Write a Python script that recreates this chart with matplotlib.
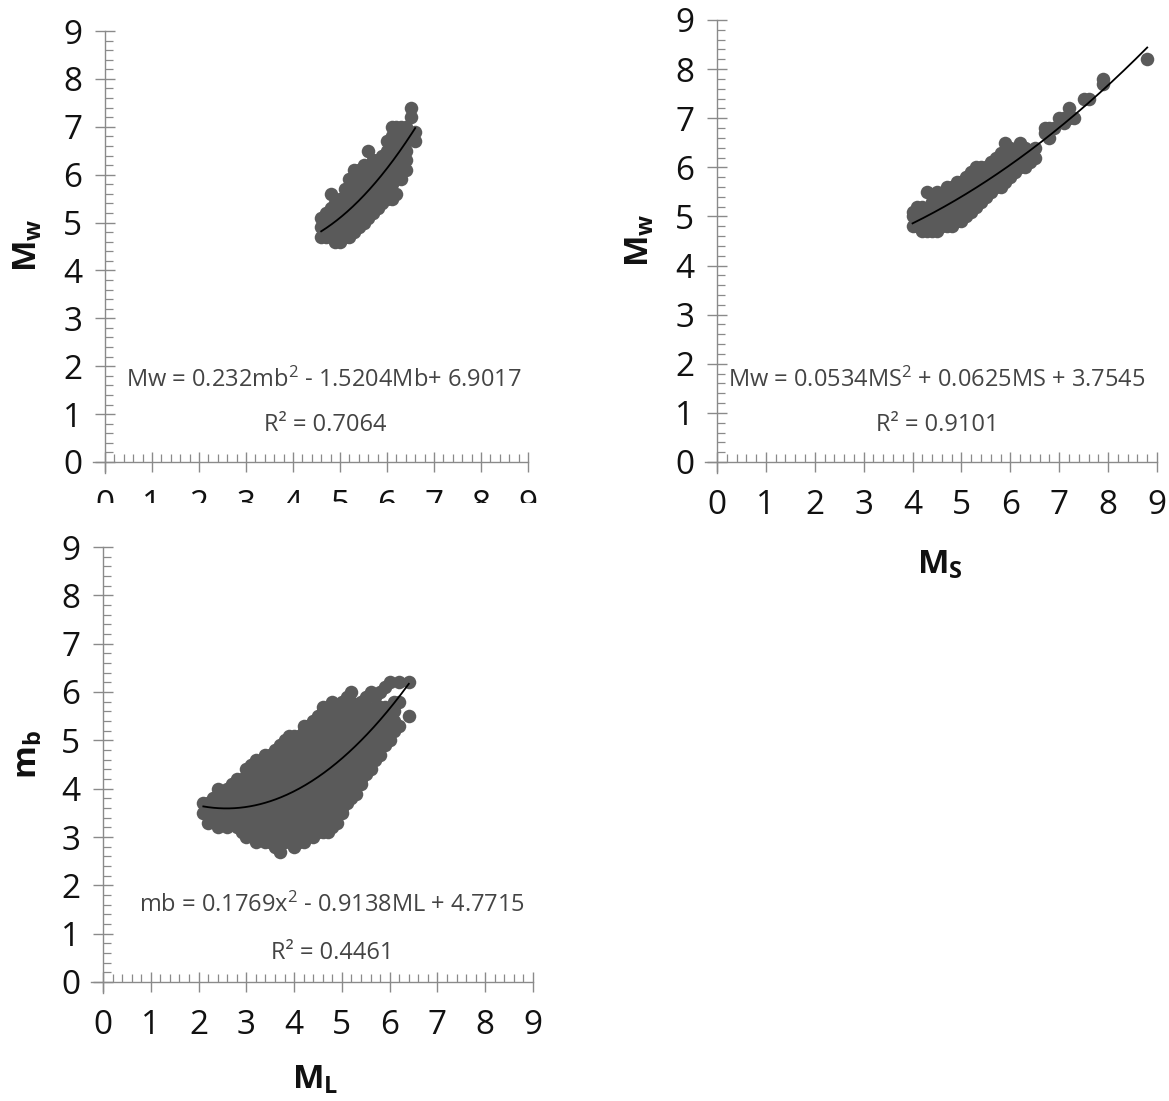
import matplotlib
matplotlib.use("Agg")
import matplotlib.pyplot as plt
import numpy as np
from matplotlib.patches import Rectangle

plt.rcParams['font.family'] = ['Open Sans', 'DejaVu Sans']
plt.rcParams['mathtext.fontset'] = 'custom'
plt.rcParams['mathtext.rm'] = 'Open Sans'
plt.rcParams['mathtext.it'] = 'Open Sans:italic'
plt.rcParams['mathtext.bf'] = 'Open Sans:bold'

# mb -> Mw (column of mb value : Mw values)
mb_mw = {
    4.6: [4.7, 4.9, 5.1],
    4.7: [4.7, 4.9, 5.0, 5.2],
    4.8: [4.7, 4.9, 5.1, 5.3, 5.6],
    4.9: [4.6, 4.8, 5.0, 5.2, 5.4],
    5.0: [4.6, 4.8, 5.0, 5.2, 5.5],
    5.1: [4.7, 4.9, 5.1, 5.3, 5.5, 5.7],
    5.2: [4.7, 4.9, 5.1, 5.3, 5.5, 5.7, 5.9],
    5.3: [4.8, 5.0, 5.2, 5.4, 5.6, 5.8, 6.1],
    5.4: [4.9, 5.1, 5.3, 5.5, 5.7, 5.9, 6.1],
    5.5: [5.0, 5.2, 5.4, 5.6, 5.8, 6.0, 6.2],
    5.6: [5.1, 5.3, 5.5, 5.7, 5.9, 6.1, 6.5],
    5.7: [5.2, 5.4, 5.6, 5.8, 6.0, 6.3],
    5.8: [5.3, 5.5, 5.7, 5.9, 6.1, 6.3],
    5.9: [5.4, 5.6, 5.8, 6.0, 6.2, 6.4],
    6.0: [5.5, 5.7, 5.9, 6.1, 6.3, 6.5, 6.7],
    6.1: [5.5, 5.8, 6.0, 6.2, 6.4, 6.6, 6.8, 7.0],
    6.2: [5.6, 5.9, 6.1, 6.3, 6.5, 6.7, 7.0],
    6.3: [5.9, 6.1, 6.3, 6.5, 6.8, 7.0],
    6.4: [6.1, 6.3, 6.5, 6.7, 7.0],
    6.5: [6.8, 7.2, 7.4],
    6.6: [6.7, 6.9],
}

# MS -> Mw
ms_mw = {
    4.0: [4.8, 5.0, 5.1],
    4.1: [4.8, 4.9, 5.2],
    4.2: [4.7, 4.9, 5.1, 5.2],
    4.3: [4.7, 4.9, 5.1, 5.5],
    4.4: [4.7, 4.9, 5.1, 5.3],
    4.5: [4.7, 4.9, 5.1, 5.3, 5.5],
    4.6: [4.8, 5.0, 5.2, 5.4],
    4.7: [4.8, 5.0, 5.2, 5.4, 5.6],
    4.8: [4.8, 5.0, 5.2, 5.4, 5.6],
    4.9: [4.9, 5.1, 5.3, 5.5, 5.7],
    5.0: [4.9, 5.1, 5.3, 5.5, 5.7],
    5.1: [5.0, 5.2, 5.4, 5.6, 5.8],
    5.2: [5.1, 5.3, 5.5, 5.7, 5.9],
    5.3: [5.2, 5.4, 5.6, 5.8, 6.0],
    5.4: [5.3, 5.5, 5.7, 5.9, 6.0],
    5.5: [5.4, 5.6, 5.8, 6.0],
    5.6: [5.5, 5.7, 5.9, 6.1],
    5.7: [5.6, 5.8, 6.0, 6.2],
    5.8: [5.6, 5.8, 6.0, 6.3],
    5.9: [5.7, 5.9, 6.1, 6.3, 6.5],
    6.0: [5.8, 6.0, 6.2, 6.4],
    6.1: [5.9, 6.1, 6.3],
    6.2: [6.0, 6.2, 6.5],
    6.3: [6.0, 6.2, 6.4],
    6.4: [6.1, 6.3],
    6.5: [6.2, 6.4],
    6.7: [6.7, 6.8],
    6.8: [6.6, 6.8],
    6.9: [6.8],
    7.0: [7.0],
    7.1: [6.9, 7.0],
    7.2: [7.0, 7.2],
    7.3: [7.0],
    7.5: [7.4],
    7.6: [7.4],
    7.9: [7.7, 7.8],
    8.8: [8.2],
}

# ML -> mb
ml_mb = {
    2.1: [3.5, 3.7],
    2.2: [3.3, 3.5, 3.7],
    2.3: [3.4, 3.6, 3.8],
    2.4: [3.2, 3.4, 3.6, 3.8, 4.0],
    2.6: [3.2, 3.4, 3.6, 3.8, 4.0],
    2.7: [3.3, 3.5, 3.7, 3.9, 4.1],
    2.8: [3.2, 3.4, 3.6, 3.8, 4.0, 4.2],
    2.9: [3.1, 3.3, 3.5, 3.7, 3.9, 4.1, 4.2],
    3.0: [3.0, 3.2, 3.4, 3.6, 3.8, 4.0, 4.2, 4.4],
    3.1: [3.1, 3.3, 3.5, 3.7, 3.9, 4.1, 4.3, 4.5],
    3.2: [2.9, 3.0, 3.2, 3.4, 3.6, 3.8, 4.0, 4.2, 4.4, 4.6],
    3.3: [3.1, 3.3, 3.5, 3.7, 3.9, 4.1, 4.3, 4.5],
    3.4: [2.9, 3.0, 3.2, 3.4, 3.6, 3.8, 4.0, 4.2, 4.4, 4.6, 4.7],
    3.5: [2.9, 3.1, 3.3, 3.5, 3.7, 3.9, 4.1, 4.3, 4.5, 4.7],
    3.6: [2.8, 3.0, 3.2, 3.4, 3.6, 3.8, 4.0, 4.2, 4.4, 4.6, 4.8],
    3.7: [2.7, 2.9, 3.1, 3.3, 3.5, 3.7, 3.9, 4.1, 4.3, 4.5, 4.7, 4.9],
    3.8: [2.9, 3.0, 3.2, 3.4, 3.6, 3.8, 4.0, 4.2, 4.4, 4.6, 4.8, 5.0],
    3.9: [3.1, 3.3, 3.5, 3.7, 3.9, 4.1, 4.3, 4.5, 4.7, 4.9, 5.1],
    4.0: [2.8, 3.0, 3.2, 3.4, 3.6, 3.8, 4.0, 4.2, 4.4, 4.6, 4.8, 5.0, 5.1],
    4.1: [2.9, 3.1, 3.3, 3.5, 3.7, 3.9, 4.1, 4.3, 4.5, 4.7, 4.9, 5.1],
    4.2: [2.9, 3.0, 3.2, 3.4, 3.6, 3.8, 4.0, 4.2, 4.4, 4.6, 4.8, 5.0, 5.2, 5.3],
    4.3: [3.1, 3.3, 3.5, 3.7, 3.9, 4.1, 4.3, 4.5, 4.7, 4.9, 5.1, 5.3],
    4.4: [3.0, 3.2, 3.4, 3.6, 3.8, 4.0, 4.2, 4.4, 4.6, 4.8, 5.0, 5.2, 5.4],
    4.5: [3.1, 3.3, 3.5, 3.7, 3.9, 4.1, 4.3, 4.5, 4.7, 4.9, 5.1, 5.3, 5.5],
    4.6: [3.1, 3.2, 3.4, 3.6, 3.8, 4.0, 4.2, 4.4, 4.6, 4.8, 5.0, 5.2, 5.4, 5.6, 5.7],
    4.7: [3.1, 3.3, 3.5, 3.7, 3.9, 4.1, 4.3, 4.5, 4.7, 4.9, 5.1, 5.3, 5.5, 5.7],
    4.8: [3.2, 3.4, 3.6, 3.8, 4.0, 4.2, 4.4, 4.6, 4.8, 5.0, 5.2, 5.4, 5.6, 5.8],
    4.9: [3.3, 3.5, 3.7, 3.9, 4.1, 4.3, 4.5, 4.7, 4.9, 5.1, 5.3, 5.5, 5.7],
    5.0: [3.5, 3.6, 3.8, 4.0, 4.2, 4.4, 4.6, 4.8, 5.0, 5.2, 5.4, 5.6, 5.8],
    5.1: [3.7, 3.9, 4.1, 4.3, 4.5, 4.7, 4.9, 5.1, 5.3, 5.5, 5.7, 5.9],
    5.2: [3.8, 4.0, 4.2, 4.4, 4.6, 4.8, 5.0, 5.2, 5.4, 5.6, 5.8, 6.0],
    5.3: [3.9, 4.1, 4.3, 4.5, 4.7, 4.9, 5.1, 5.3, 5.5, 5.7],
    5.4: [4.1, 4.2, 4.4, 4.6, 4.8, 5.0, 5.2, 5.4, 5.6, 5.8],
    5.5: [4.3, 4.5, 4.7, 4.9, 5.1, 5.3, 5.5, 5.7, 5.9],
    5.6: [4.4, 4.6, 4.8, 5.0, 5.2, 5.4, 5.6, 6.0],
    5.7: [4.6, 4.7, 4.9, 5.1, 5.3, 5.5, 5.7, 5.9],
    5.8: [4.7, 4.9, 5.1, 5.3, 5.5, 5.7, 6.0],
    5.9: [4.9, 5.1, 5.3, 5.5, 5.7, 6.1],
    6.0: [5.0, 5.2, 5.4, 5.6, 6.2],
    6.1: [5.2, 5.4, 5.6, 5.8],
    6.2: [5.3, 5.8, 6.2],
    6.4: [5.5, 6.2],
}

# quadratic trendlines (a, b, c) and labels
fit_tl = (0.232, -1.5204, 6.9017)
fit_tr = (0.0534, 0.0625, 3.7545)
fit_bl = (0.1769, -0.9138, 4.7715)
eq_tl = "Mw = 0.232mb$^2$ - 1.5204Mb+ 6.9017"
eq_tr = "Mw = 0.0534MS$^2$ + 0.0625MS + 3.7545"
eq_bl = "mb = 0.1769x$^2$ - 0.9138ML + 4.7715"
r2_tl = "R² = 0.7064"
r2_tr = "R² = 0.9101"
r2_bl = "R² = 0.4461"

W, H = 1169, 1101
fig = plt.figure(figsize=(W / 100, H / 100), dpi=100)

AX_GRAY = '#8a8a8a'
DOT = '#5a5a5a'


def make_axes(x0, y0, x9, y9, z=0):
    # x0,y0: pixel of the origin, x9,y9: pixel of (9, 9)
    ux = (x9 - x0) / 9
    uy = (y0 - y9) / 9
    px, py = 0.25, 0.22
    left = x0 - px * ux
    bottom = y0 + py * uy
    ax = fig.add_axes([left / W, 1 - bottom / H, (x9 - left) / W, (bottom - y9) / H], zorder=z)
    ax.set_xlim(-px, 9)
    ax.set_ylim(-py, 9)
    ax.patch.set_alpha(0)
    for s in ['top', 'right']:
        ax.spines[s].set_visible(False)
    for s in ['left', 'bottom']:
        ax.spines[s].set_position(('data', 0))
        ax.spines[s].set_color(AX_GRAY)
        ax.spines[s].set_linewidth(1.0)
    ax.set_xticks(range(10))
    ax.set_yticks(range(10))
    minor = [v / 5 for v in range(1, 46) if v % 5]
    ax.set_xticks(minor, minor=True)
    ax.set_yticks(minor, minor=True)
    ax.tick_params(which='major', direction='inout', length=15, width=1.0,
                   color=AX_GRAY, labelsize=24, labelcolor='#111111')
    ax.tick_params(axis='x', which='major', pad=12)
    ax.tick_params(axis='y', which='major', pad=9)
    ax.tick_params(which='minor', direction='in', length=6, width=0.9, color=AX_GRAY)
    return ax


def draw_panel(ax, cols, fit, eq, r2, eq_xy, r2_xy):
    xs = [k for k, ys in cols.items() for _ in ys]
    ys = [y for k, yl in cols.items() for y in yl]
    ax.scatter(xs, ys, s=95, c=DOT, linewidths=0, zorder=3)
    a, b, c = fit
    xx = np.linspace(min(xs), max(xs), 200)
    ax.plot(xx, a * xx ** 2 + b * xx + c, color='black', lw=1.3, zorder=4)
    fig.text(eq_xy[0] / W, 1 - eq_xy[1] / H, eq, fontsize=17, color='#444444',
             ha='center', va='center')
    fig.text(r2_xy[0] / W, 1 - r2_xy[1] / H, r2, fontsize=17, color='#444444',
             ha='center', va='center')


ax1 = make_axes(105, 462, 528, 31, z=0)
draw_panel(ax1, mb_mw, fit_tl, eq_tl, r2_tl, (324, 380), (325, 425))

ax2 = make_axes(717, 462, 1157, 20, z=0)
draw_panel(ax2, ms_mw, fit_tr, eq_tr, r2_tr, (937, 380), (937, 425))

ax3 = make_axes(103, 982, 533, 547, z=3)
draw_panel(ax3, ml_mb, fit_bl, eq_bl, r2_bl, (332, 905), (332, 953))

# lower panel sits over the first panel's x tick labels
fig.add_artist(Rectangle((0, 1 - 532 / H), 590 / W, (532 - 503) / H,
                         transform=fig.transFigure, facecolor='white',
                         edgecolor='none', zorder=2))

lab = dict(fontsize=24, color='#111111', ha='center', va='center')
fig.text(28 / W, 1 - 245 / H, r'$\mathbf{M_w}$', rotation=90, **lab)
fig.text(640 / W, 1 - 240 / H, r'$\mathbf{M_w}$', rotation=90, **lab)
fig.text(940 / W, 1 - 565 / H, r'$\mathbf{M_S}$', **lab)
fig.text(28 / W, 1 - 755 / H, r'$\mathbf{m_b}$', rotation=90, **lab)
fig.text(315 / W, 1 - 1080 / H, r'$\mathbf{M_L}$', **lab)

fig.savefig('out.png', dpi=100, facecolor='white')
